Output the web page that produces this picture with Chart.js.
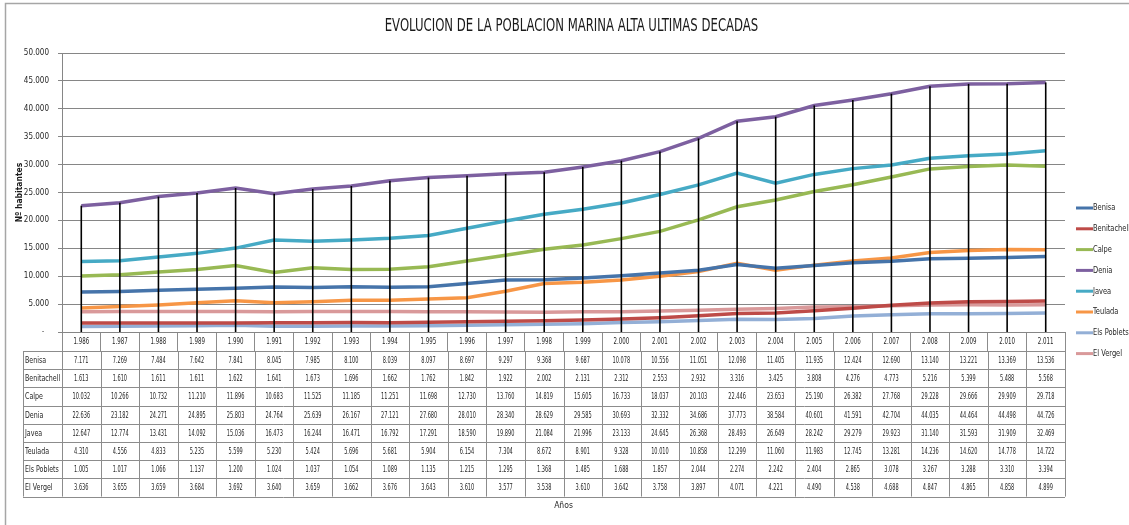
<!DOCTYPE html>
<html>
<head>
<meta charset="utf-8">
<script src="https://cdn.jsdelivr.net/npm/chart.js@4/dist/chart.umd.min.js"></script>
<style>
html,body{margin:0;padding:0;background:#fff;}
canvas{display:block;}
</style>
</head>
<body>
<canvas id="c" width="1129" height="525"></canvas>
<script>
const chartTitle = 'EVOLUCION DE LA POBLACION MARINA ALTA ULTIMAS DECADAS';
const yTitle = 'Nº habitantes';
const xTitle = 'Años';
const years = ['1.986','1.987','1.988','1.989','1.990','1.991','1.992','1.993','1.994','1.995','1.996','1.997','1.998','1.999','2.000','2.001','2.002','2.003','2.004','2.005','2.006','2.007','2.008','2.009','2.010','2.011'];
const seriesNames = ['Benisa','Benitachell','Calpe','Denia','Javea','Teulada','Els Poblets','El Vergel'];
const benisa = [7171,7269,7484,7642,7841,8045,7985,8100,8039,8097,8697,9297,9368,9687,10078,10556,11051,12098,11405,11935,12424,12690,13140,13221,13369,13536];
const benitachell = [1613,1610,1611,1611,1622,1641,1673,1696,1662,1762,1842,1922,2002,2131,2312,2553,2932,3316,3425,3808,4276,4773,5216,5399,5488,5568];
const calpe = [10032,10266,10732,11210,11896,10683,11525,11185,11251,11698,12730,13760,14819,15605,16733,18037,20103,22446,23653,25190,26382,27768,29228,29666,29909,29718];
const denia = [22636,23182,24271,24895,25803,24764,25639,26167,27121,27680,28010,28340,28629,29585,30693,32332,34686,37773,38584,40601,41591,42704,44035,44464,44498,44726];
const javea = [12647,12774,13431,14092,15036,16473,16244,16471,16792,17291,18590,19890,21084,21996,23133,24645,26368,28493,26649,28242,29279,29923,31140,31593,31909,32469];
const teulada = [4310,4556,4833,5235,5599,5230,5424,5696,5681,5904,6154,7304,8672,8901,9328,10010,10858,12299,11060,11983,12745,13281,14236,14620,14778,14722];
const elsPoblets = [1005,1017,1066,1137,1200,1024,1037,1054,1089,1135,1215,1295,1368,1485,1688,1857,2044,2274,2242,2404,2865,3078,3267,3288,3310,3394];
const elVergel = [3636,3655,3659,3684,3692,3640,3659,3662,3676,3643,3610,3577,3538,3610,3642,3758,3897,4071,4221,4490,4538,4688,4847,4865,4858,4899];
const seriesData = [benisa, benitachell, calpe, denia, javea, teulada, elsPoblets, elVergel];
const seriesColors = ['#4674AA','#BE4B48','#98B954','#7D60A0','#46AAC5','#F79646','#93AFD6','#D9999A'];

function hasFont(name){
  const c = document.createElement('canvas').getContext('2d');
  const s = 'abcMWil0123456789';
  c.font = '20px monospace'; const w1 = c.measureText(s).width;
  c.font = "20px '" + name + "', monospace"; const w2 = c.measureText(s).width;
  return Math.abs(w1 - w2) > 0.5;
}
const narrow = hasFont('Liberation Sans Narrow');
const condensed = hasFont('DejaVu Sans Condensed');
const FAMILY = narrow ? "'Liberation Sans Narrow', 'Liberation Sans', sans-serif" :
               (condensed ? "'DejaVu Sans Condensed', 'Liberation Sans', sans-serif" : "'Liberation Sans', Arial, sans-serif");
const K = (narrow || condensed) ? 1 : 0.85;

function fmt(n){ return String(n).replace(/\B(?=(\d{3})+(?!\d))/g, '.'); }

function txt(ctx, s, x, y, align, sx){
  ctx.save();
  ctx.translate(x, y);
  ctx.scale(sx * K, 1);
  ctx.textAlign = align;
  ctx.textBaseline = 'middle';
  ctx.fillText(s, 0, 0);
  ctx.restore();
}

const extras = {
  id: 'extras',
  beforeDraw(chart){
    const ctx = chart.ctx;
    ctx.save();
    ctx.fillStyle = '#fff';
    ctx.fillRect(0, 0, chart.width, chart.height);
    ctx.strokeStyle = '#a6a6a6';
    ctx.lineWidth = 1.5;
    ctx.beginPath();
    ctx.moveTo(5.5, chart.height);
    ctx.lineTo(5.5, 3.5);
    ctx.lineTo(chart.width, 3.5);
    ctx.stroke();
    // title
    ctx.fillStyle = '#1a1a1a';
    ctx.font = '17px ' + FAMILY;
    txt(ctx, chartTitle, (chart.chartArea.left + chart.chartArea.right) / 2 + 8, 27, 'center', 0.765);
    ctx.restore();
  },
  afterDatasetsDraw(chart){
    const ctx = chart.ctx, xs = chart.scales.x, ys = chart.scales.y;
    const ds = chart.data.datasets;
    ctx.save();
    ctx.strokeStyle = '#000';
    ctx.lineWidth = 1.6;
    chart.data.labels.forEach((l, i) => {
      const max = Math.max(...ds.map(d => d.data[i]));
      const x = xs.getPixelForValue(i);
      ctx.beginPath();
      ctx.moveTo(x, ys.getPixelForValue(max));
      ctx.lineTo(x, ys.getPixelForValue(0));
      ctx.stroke();
    });
    ctx.restore();
  },
  afterDraw(chart){
    const ctx = chart.ctx, xs = chart.scales.x;
    const ds = chart.data.datasets;
    const labels = chart.data.labels;
    const n = labels.length;
    const step = (xs.right - xs.left) / n;
    const top = xs.bottom;
    const rowH = 18.2;
    const labelLeft = 23;
    const bottom = top + ds.length * rowH;
    ctx.save();
    ctx.strokeStyle = '#8c8c8c';
    ctx.lineWidth = 1;
    ctx.beginPath();
    for (let r = 0; r <= ds.length; r++){
      const y = Math.round(top + r * rowH) + 0.5;
      ctx.moveTo(labelLeft, y); ctx.lineTo(xs.right, y);
    }
    ctx.moveTo(labelLeft + 0.5, top); ctx.lineTo(labelLeft + 0.5, bottom);
    for (let k = 0; k <= n; k++){
      const x = Math.round(xs.left + k * step) + 0.5;
      ctx.moveTo(x, top); ctx.lineTo(x, bottom);
    }
    ctx.stroke();
    ctx.fillStyle = '#262626';
    ctx.font = '9px ' + FAMILY;
    // header (category labels of the x scale)
    labels.forEach((l, i) => {
      txt(ctx, l, xs.getPixelForValue(i), (xs.top + xs.bottom) / 2 + 0.5, 'center', 0.68);
    });
    ds.forEach((d, r) => {
      const yc = top + (r + 0.5) * rowH + 0.5;
      txt(ctx, d.label, labelLeft + 2, yc, 'left', 0.78);
      d.data.forEach((v, i) => {
        txt(ctx, fmt(v), xs.getPixelForValue(i), yc, 'center', 0.62);
      });
    });
    // legend
    ctx.font = '9.5px ' + FAMILY;
    ds.forEach((d, i) => {
      const y = 208 + i * 20.8;
      ctx.strokeStyle = d.borderColor;
      ctx.lineWidth = 3;
      ctx.beginPath();
      ctx.moveTo(1076, y); ctx.lineTo(1093, y);
      ctx.stroke();
      ctx.fillStyle = '#262626';
      txt(ctx, d.label, 1093, y, 'left', 0.78);
    });
    ctx.restore();
  }
};

const datasets = seriesNames.map((name, i) => ({
  label: name,
  data: seriesData[i],
  borderColor: seriesColors[i],
  backgroundColor: seriesColors[i],
  borderWidth: 3.5,
  pointRadius: 0,
  pointHoverRadius: 0,
  tension: 0,
  fill: false
}));

new Chart(document.getElementById('c'), {
  type: 'line',
  data: { labels: years, datasets },
  plugins: [extras],
  options: {
    responsive: false,
    animation: false,
    devicePixelRatio: 1,
    layout: { padding: { left: 0, right: 64, top: 53, bottom: 174 } },
    plugins: {
      legend: { display: false },
      tooltip: { enabled: false },
      title: { display: false }
    },
    scales: {
      x: {
        type: 'category',
        offset: true,
        afterFit: s => { s.height = 19; },
        grid: { display: true, drawOnChartArea: false, drawTicks: true, tickLength: 19, color: '#8c8c8c', offset: true },
        border: { display: true, color: '#868686', width: 1 },
        ticks: { display: false, autoSkip: false, maxRotation: 0, minRotation: 0 },
        title: { display: true, text: xTitle, color: '#262626', font: { family: FAMILY, size: 8.5 }, padding: { top: 0, bottom: -159.4 } }
      },
      y: {
        min: 0, max: 50000,
        afterFit: s => { s.width = 62; },
        grid: { color: '#868686', lineWidth: 1, tickLength: 4, drawTicks: true },
        border: { display: true, color: '#868686', width: 1 },
        ticks: { stepSize: 5000, padding: 9, color: '#262626', font: { family: FAMILY, size: 8 },
                 callback: v => v === 0 ? '-  ' : fmt(v) },
        title: { display: true, text: yTitle, color: '#1a1a1a', font: { family: FAMILY, size: 8.5, weight: 'bold' }, padding: { top: 14.6, bottom: 0 } }
      }
    }
  }
});
</script>
</body>
</html>
